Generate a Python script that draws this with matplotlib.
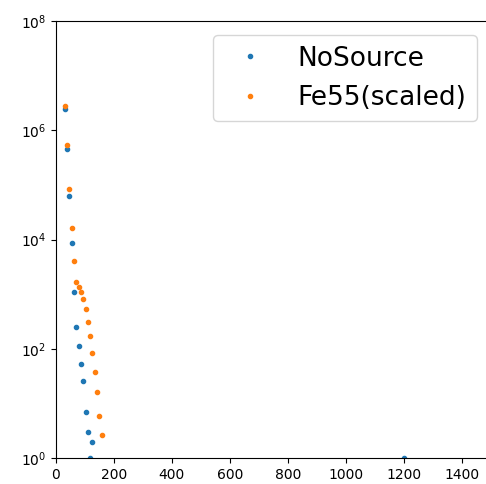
import matplotlib
matplotlib.use('Agg')
import matplotlib.pyplot as plt
import matplotlib.ticker as ticker

# bin centres and counts
noSourceX = [30, 38, 46, 54, 62, 70, 78, 86, 94, 102, 110, 118, 126, 1200]
noSourceY = [2.43e6, 4.48e5, 6.2e4, 8.8e3, 1.1e3, 253, 113, 52, 26, 7, 3, 1, 2, 1]

fe55X = [30, 38, 46, 54, 62, 70, 78, 86, 94, 102, 110, 118, 126, 134, 142, 150, 158]
fe55Y = [2.79e6, 5.3e5, 8.3e4, 1.64e4, 4.0e3, 1675, 1356, 1097, 803, 542,
         313, 173, 84.5, 37.8, 16.0, 5.97, 2.61]

fig = plt.figure(figsize=(4.86, 4.84), dpi=100)
# right part of the axes runs off the figure, as in the reference
axWidth = 0.93
ax = fig.add_axes([0.1152, 0.0537, axWidth, 0.9029])

ax.plot(noSourceX, noSourceY, '.', label='NoSource')
ax.plot(fe55X, fe55Y, '.', label='Fe55(scaled)')

ax.set_yscale('log')
ax.set_ylim(1, 1e8)
ax.set_xlim(0, 1560)
ax.set_yticks([1, 1e2, 1e4, 1e6, 1e8])
ax.yaxis.set_minor_locator(ticker.NullLocator())
ax.set_xticks(range(0, 1401, 200))

# legend placed in figure coords so it sits where the reference has it
ax.legend(fontsize=19, loc='upper right', bbox_to_anchor=(0.9815, 0.9276),
          bbox_transform=fig.transFigure, borderaxespad=0)

fig.savefig('out.png', dpi=100)
